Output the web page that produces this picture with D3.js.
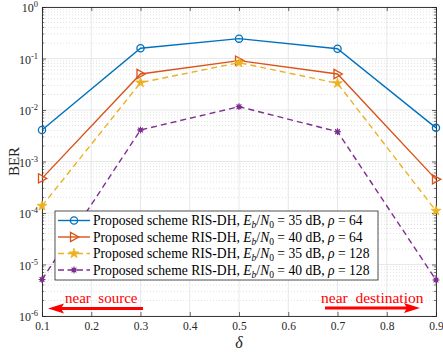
<!DOCTYPE html>
<html><head><meta charset="utf-8">
<script src="https://cdn.jsdelivr.net/npm/d3@7"></script>
<style>body{margin:0;background:#fff}svg{display:block}svg text{font-family:"Liberation Serif","DejaVu Serif",serif !important}</style>
</head><body>
<script>
const delta = [0.1, 0.3, 0.5, 0.7, 0.9];
const berBlue = [4.1e-3, 0.158, 0.243, 0.155, 4.5e-3];
const berOrange = [4.7e-4, 0.050, 0.091, 0.050, 4.5e-4];
const berYellow = [1.37e-4, 0.034, 0.083, 0.033, 1.1e-4];
const berPurple = [5.1e-6, 4.1e-3, 0.0116, 3.8e-3, 5.0e-6];
const xTicks = [0.1, 0.2, 0.3, 0.4, 0.5, 0.6, 0.7, 0.8, 0.9];
const yExps = [0, -1, -2, -3, -4, -5, -6];
const legendSnr = ["35", "40", "35", "40"];
const legendRho = ["64", "64", "128", "128"];

const W = 443, H = 354;
const m = {l: 42, r: 436, t: 7, b: 316};
const svg = d3.select("body").append("svg").attr("width", W).attr("height", H);
const x = d3.scaleLinear().domain([0.1, 0.9]).range([m.l, m.r]);
const y = d3.scaleLog().domain([1e-6, 1]).range([m.b, m.t]);

// grid
const g = svg.append("g");
const minor = [];
for (let e = -6; e < 0; e++) for (let k = 2; k <= 9; k++) minor.push(k * Math.pow(10, e));
g.selectAll(".mn").data(minor).enter().append("line")
  .attr("x1", m.l).attr("x2", m.r).attr("y1", d => y(d)).attr("y2", d => y(d))
  .attr("stroke", "#d0d0d0").attr("stroke-width", 0.6).attr("stroke-dasharray", "1,2");
g.selectAll(".mj").data(yExps.map(e => Math.pow(10, e))).enter().append("line")
  .attr("x1", m.l).attr("x2", m.r).attr("y1", d => y(d)).attr("y2", d => y(d))
  .attr("stroke", "#e2e2e2").attr("stroke-width", 0.8);
g.selectAll(".vx").data(xTicks).enter().append("line")
  .attr("x1", d => x(d)).attr("x2", d => x(d)).attr("y1", m.t).attr("y2", m.b)
  .attr("stroke", "#e2e2e2").attr("stroke-width", 0.8);

// axes
const axC = "#262626";
const xb = svg.append("g").attr("transform", `translate(0,${m.b})`)
  .call(d3.axisBottom(x).tickValues(xTicks).tickSize(-4).tickPadding(6).tickFormat(d3.format(".1f")));
const xt = svg.append("g").attr("transform", `translate(0,${m.t})`)
  .call(d3.axisTop(x).tickValues(xTicks).tickSize(-4).tickFormat(""));
const yl = svg.append("g").attr("transform", `translate(${m.l},0)`)
  .call(d3.axisLeft(y).tickValues(yExps.map(e => Math.pow(10, e))).tickSize(-4).tickPadding(6).tickFormat(""));
const yr = svg.append("g").attr("transform", `translate(${m.r},0)`)
  .call(d3.axisRight(y).tickValues(yExps.map(e => Math.pow(10, e))).tickSize(-4).tickFormat(""));
[xb, xt, yl, yr].forEach(a => {
  a.attr("font-family", null);
  a.select(".domain").attr("stroke", axC).attr("stroke-width", 0.9);
  a.selectAll(".tick line").attr("stroke", axC).attr("stroke-width", 0.7);
  a.selectAll("text").attr("font-size", 11.5).attr("fill", axC);
});
// minor ticks on y
[[m.l, 1], [m.r, -1]].forEach(([px, dir]) => {
  svg.append("g").selectAll("line").data(minor).enter().append("line")
    .attr("x1", px).attr("x2", px + dir * 2.2).attr("y1", d => y(d)).attr("y2", d => y(d))
    .attr("stroke", axC).attr("stroke-width", 0.6);
});
// y tick labels 10^e
yExps.forEach(e => {
  const t = svg.append("text").attr("x", m.l - 4).attr("y", y(Math.pow(10, e)) + 5)
    .attr("text-anchor", "end").attr("font-size", 12).attr("fill", axC);
  t.append("tspan").text("10");
  t.append("tspan").attr("dy", -5).attr("font-size", 8.5).text(e);
});
svg.append("text").attr("transform", `translate(19,${(m.t + m.b) / 2}) rotate(-90)`)
  .attr("text-anchor", "middle").attr("font-size", 15).attr("fill", axC).text("BER");
svg.append("text").attr("x", (m.l + m.r) / 2).attr("y", 348).attr("text-anchor", "middle")
  .attr("font-size", 16).attr("font-style", "italic").attr("fill", axC).text("δ");

// series
const series = [
  {v: berBlue, c: "#0072BD", dash: null, mk: "circle"},
  {v: berOrange, c: "#D95319", dash: null, mk: "tri"},
  {v: berYellow, c: "#EDB120", dash: "6,4", mk: "star"},
  {v: berPurple, c: "#7E2F8E", dash: "6,4", mk: "ast"},
];
const line = d3.line().x(d => x(d[0])).y(d => y(d[1]));
function marker(sel, s, cx, cy) {
  if (s.mk === "circle") sel.append("circle").attr("cx", cx).attr("cy", cy).attr("r", 3.6)
    .attr("fill", "none").attr("stroke", s.c).attr("stroke-width", 1.3);
  else if (s.mk === "tri") sel.append("path")
    .attr("d", `M${cx - 3.5},${cy - 4.6}L${cx + 4.8},${cy}L${cx - 3.5},${cy + 4.6}Z`)
    .attr("fill", "none").attr("stroke", s.c).attr("stroke-width", 1.3);
  else if (s.mk === "star") sel.append("path")
    .attr("d", d3.symbol(d3.symbolStar, 30)()).attr("transform", `translate(${cx},${cy})`)
    .attr("fill", s.c).attr("stroke", s.c).attr("stroke-width", 0.8);
  else {
    sel.append("circle").attr("cx", cx).attr("cy", cy).attr("r", 2.2).attr("fill", s.c);
    for (let a = 0; a < 4; a++) {
      const th = a * Math.PI / 4;
      sel.append("line").attr("x1", cx - 3.4 * Math.cos(th)).attr("x2", cx + 3.4 * Math.cos(th))
        .attr("y1", cy - 3.4 * Math.sin(th)).attr("y2", cy + 3.4 * Math.sin(th))
        .attr("stroke", s.c).attr("stroke-width", 1.1);
    }
  }
}
series.forEach(s => {
  const pts = delta.map((d, i) => [d, s.v[i]]);
  svg.append("path").datum(pts).attr("d", line).attr("fill", "none").attr("stroke", s.c)
    .attr("stroke-width", 1.4).attr("stroke-dasharray", s.dash);
  const mg = svg.append("g");
  pts.forEach(p => marker(mg, s, x(p[0]), y(p[1])));
});

// legend
const lg = svg.append("g");
lg.append("rect").attr("x", 55).attr("y", 211).attr("width", 323).attr("height", 69)
  .attr("fill", "#fff").attr("stroke", axC).attr("stroke-width", 0.8);
series.forEach((s, i) => {
  const ly = 220.5 + i * 16.5;
  lg.append("line").attr("x1", 58).attr("x2", 90).attr("y1", ly).attr("y2", ly)
    .attr("stroke", s.c).attr("stroke-width", 1.4).attr("stroke-dasharray", s.dash ? "6,3.5" : null);
  marker(lg, s, 74, ly);
  const t = lg.append("text").attr("x", 93).attr("y", ly + 4.5).attr("font-size", 13.6).attr("fill", "#000");
  t.append("tspan").text("Proposed scheme RIS-DH, ");
  t.append("tspan").attr("font-style", "italic").text("E");
  t.append("tspan").attr("font-style", "italic").attr("font-size", 9.5).attr("dy", 3).text("b");
  t.append("tspan").attr("dy", -3).text("/");
  t.append("tspan").attr("font-style", "italic").text("N");
  t.append("tspan").attr("font-size", 9.5).attr("dy", 3).text("0");
  t.append("tspan").attr("dy", -3).text(` = ${legendSnr[i]} dB, `);
  t.append("tspan").attr("font-style", "italic").text("ρ");
  t.append("tspan").text(` = ${legendRho[i]}`);
});

// annotations
const red = "#ff0000";
svg.append("text").attr("x", 65).attr("y", 303).attr("font-size", 15).attr("fill", red)
  .style("white-space", "pre").text("near  source");
svg.append("text").attr("x", 321).attr("y", 303).attr("font-size", 15.5).attr("fill", red)
  .style("white-space", "pre").text("near  destination");
function arrow(x1, x2, yy) {
  const dir = Math.sign(x2 - x1);
  svg.append("line").attr("x1", x1).attr("x2", x2 - dir * 10).attr("y1", yy).attr("y2", yy)
    .attr("stroke", red).attr("stroke-width", 3);
  svg.append("path").attr("d", `M${x2},${yy}L${x2 - dir * 16},${yy - 5}L${x2 - dir * 13},${yy}L${x2 - dir * 16},${yy + 5}Z`)
    .attr("fill", red);
}
arrow(143, 48, 308.5);
arrow(325, 420, 308);
</script>
</body></html>
